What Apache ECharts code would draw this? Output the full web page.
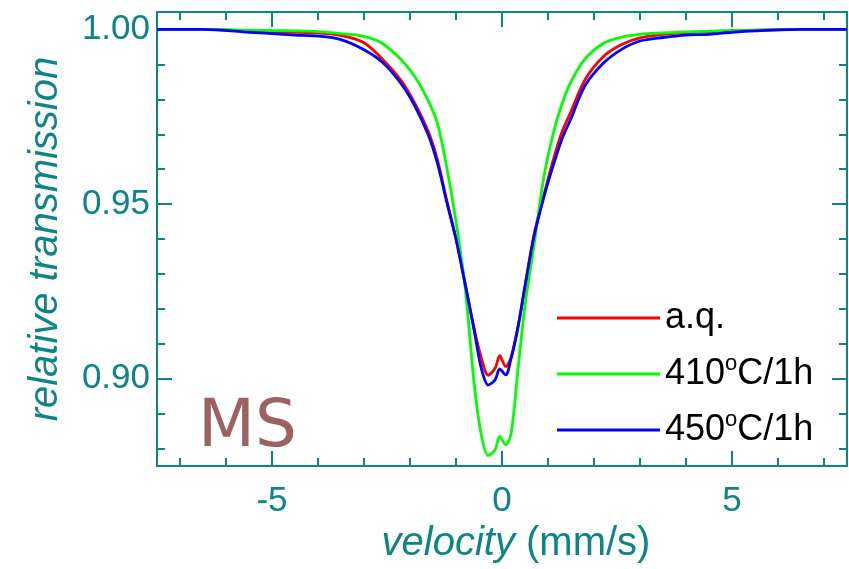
<!DOCTYPE html>
<html>
<head>
<meta charset="utf-8">
<title>Mössbauer spectra</title>
<script src="https://cdn.jsdelivr.net/npm/echarts@6.0.0/dist/echarts.min.js"></script>
<style>
  html, body { margin: 0; padding: 0; background: #fff; }
  #main { width: 849px; height: 569px; }
</style>
</head>
<body>
<div id="main"></div>
<script>
// velocity grid (mm/s)
var velocity = [-7.5, -6.5, -5.5, -5.0, -4.5, -4.0, -3.5, -3.0, -2.6, -2.2, -1.9, -1.6, -1.4, -1.2, -1.0, -0.8, -0.6, -0.45, -0.3, -0.15, -0.05,
    0.08, 0.2, 0.35, 0.5, 0.7, 0.9, 1.1, 1.3, 1.5, 1.8, 2.2, 2.6, 3.0, 3.5, 4.0, 4.5, 5.0, 5.5, 6.5, 7.5];

var seriesNames = ['a.q.', '410°C/1h', '450°C/1h'];
var seriesColors = ['#ff0000', '#00ff00', '#0000ff'];

var aq = [1.0000, 1.0000, 0.9995, 0.9993, 0.9992, 0.9990, 0.9983, 0.9962, 0.9915, 0.9855, 0.9790, 0.9707, 0.9625, 0.9510, 0.9400, 0.9272, 0.9140, 0.9060, 0.9010, 0.9030, 0.9066,
    0.9035, 0.9062, 0.9150, 0.9265, 0.9415, 0.9520, 0.9620, 0.9705, 0.9765, 0.9855, 0.9922, 0.9957, 0.9976, 0.9986, 0.9991, 0.9994, 0.9996, 0.9998, 1.0000, 1.0000];
var t410 = [1.0000, 1.0000, 0.9998, 0.9997, 0.9996, 0.9994, 0.9988, 0.9980, 0.9960, 0.9915, 0.9866, 0.9795, 0.9730, 0.9605, 0.9450, 0.9260, 0.8980, 0.8840, 0.8780, 0.8797, 0.8835,
    0.8811, 0.8845, 0.9030, 0.9210, 0.9385, 0.9570, 0.9695, 0.9785, 0.9850, 0.9915, 0.9960, 0.9978, 0.9986, 0.9990, 0.9993, 0.9995, 0.9997, 0.9998, 1.0000, 1.0000];
var t450 = [1.0000, 1.0000, 0.9992, 0.9988, 0.9984, 0.9981, 0.9971, 0.9942, 0.9906, 0.9846, 0.9782, 0.9697, 0.9615, 0.9505, 0.9400, 0.9270, 0.9135, 0.9030, 0.8982, 0.8997, 0.9028,
    0.9011, 0.9060, 0.9150, 0.9265, 0.9410, 0.9515, 0.9605, 0.9685, 0.9745, 0.9838, 0.9903, 0.9943, 0.9967, 0.9977, 0.9984, 0.9986, 0.9992, 0.9996, 1.0000, 1.0000];

// ticks
var xMajor = [-5, 0, 5];
var xMinor = [-7, -6, -4, -3, -2, -1, 1, 2, 3, 4, 6, 7];
var yMajor = [0.90, 0.95, 1.00];
var yMinor = [0.88, 0.89, 0.91, 0.92, 0.93, 0.94, 0.96, 0.97, 0.98, 0.99];

var TEAL = '#0f8484';
var FONT = 'Liberation Sans, Arial, sans-serif';

function pairs(xs, ys) {
    var out = [];
    for (var i = 0; i < xs.length; i++) out.push([xs[i], ys[i]]);
    return out;
}

// one axis copy per side / per tick length
function xAx(pos, ticks, len, labels) {
    return {
        type: 'value', position: pos, min: -7.5, max: 7.5,
        axisLine: { show: true, onZero: false, lineStyle: { color: TEAL, width: 2 } },
        axisTick: { show: true, inside: true, length: len, customValues: ticks, lineStyle: { color: TEAL, width: 2 } },
        axisLabel: labels ? { show: true, customValues: xMajor, margin: 18, fontSize: 35, color: TEAL, fontFamily: FONT } : { show: false },
        splitLine: { show: false }
    };
}
function yAx(pos, ticks, len, labels) {
    return {
        type: 'value', position: pos, min: 0.875, max: 1.005,
        axisLine: { show: true, onZero: false, lineStyle: { color: TEAL, width: 2 } },
        axisTick: { show: true, inside: true, length: len, customValues: ticks, lineStyle: { color: TEAL, width: 2 } },
        axisLabel: labels ? {
            show: true, customValues: yMajor, margin: 7, fontSize: 35, color: TEAL, fontFamily: FONT,
            formatter: function (v) { return v.toFixed(2); }
        } : { show: false },
        splitLine: { show: false }
    };
}

var xAxes = [xAx('bottom', xMajor, 15, true), xAx('bottom', xMinor, 8, false), xAx('top', xMajor, 15, false), xAx('top', xMinor, 8, false)];
xAxes[0].name = '{i|velocity} (mm/s)';
xAxes[0].nameLocation = 'middle';
xAxes[0].nameGap = 56;
xAxes[0].nameTextStyle = { fontSize: 40, color: TEAL, fontFamily: FONT, padding: [0, 0, 0, 28],
    rich: { i: { fontSize: 40, fontStyle: 'italic', color: TEAL, fontFamily: FONT } } };

var yAxes = [yAx('left', yMajor, 15, true), yAx('left', yMinor, 8, false), yAx('right', yMajor, 15, false), yAx('right', yMinor, 8, false)];
yAxes[0].name = 'relative transmission';
yAxes[0].nameLocation = 'middle';
yAxes[0].nameRotate = 90;
yAxes[0].nameGap = 91;
yAxes[0].nameTextStyle = { fontSize: 40, fontStyle: 'italic', color: TEAL, fontFamily: FONT };

var dataSets = [aq, t410, t450];
var series = [];
for (var k = 0; k < dataSets.length; k++) {
    series.push({
        name: seriesNames[k],
        type: 'line',
        xAxisIndex: 0,
        yAxisIndex: 0,
        data: pairs(velocity, dataSets[k]),
        smooth: 0.3,
        symbol: 'none',
        lineStyle: { color: seriesColors[k], width: 2.8 },
        itemStyle: { color: seriesColors[k] },
        animation: false
    });
}

var myChart = echarts.init(document.getElementById('main'), null, { renderer: 'canvas' });
var option = {
    backgroundColor: '#fff',
    animation: false,
    grid: { left: 157, right: 2, top: 12, bottom: 100, containLabel: false },
    xAxis: xAxes,
    yAxis: yAxes,
    legend: {
        orient: 'vertical',
        left: 552,
        top: 293,
        icon: 'rect',
        itemWidth: 103,
        itemHeight: 3,
        itemGap: 15,
        data: seriesNames,
        formatter: function (name) {
            return name.replace('°', '{sup|o}');
        },
        textStyle: {
            fontSize: 36, color: '#000', fontFamily: FONT, lineHeight: 40, padding: [0, 0, 0, 0],
            rich: { sup: { fontSize: 22, color: '#000', fontFamily: FONT, padding: [0, 0, 20, 0] } }
        }
    },
    graphic: [{
        type: 'text',
        left: 198,
        top: 396,
        style: { text: 'MS', fontSize: 66, fill: '#9c6262', fontFamily: 'DejaVu Sans, sans-serif' }
    }],
    series: series
};
myChart.setOption(option);
</script>
</body>
</html>
